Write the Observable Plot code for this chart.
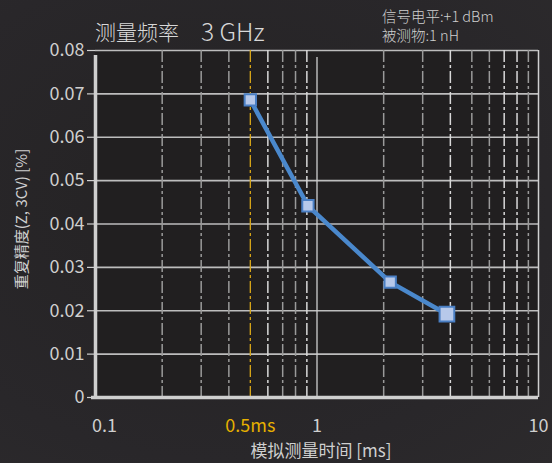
<!DOCTYPE html>
<html><head><meta charset="utf-8">
<script src="https://cdn.jsdelivr.net/npm/d3@7"></script>
<script src="https://cdn.jsdelivr.net/npm/@observablehq/plot@0.6"></script>
<style>
html,body{margin:0;padding:0;background:#272526;}
#wrap{position:relative;width:552px;height:463px;overflow:hidden;
  background:radial-gradient(ellipse at 40% 45%, #242223 0%, #29272a 70%, #2c2a2c 100%);
  font-family:"Noto Sans CJK SC","Noto Sans",sans-serif;}
#title{position:absolute;left:95px;top:12px;font-size:21px;color:#d8d8d8;font-weight:300;white-space:nowrap;}
#title span{font-size:24.5px;margin-left:22px;position:relative;top:1px;}
#note{position:absolute;left:382px;top:6px;font-size:14.5px;line-height:19px;color:#cfcfcf;font-weight:300;}
svg{position:absolute;left:0;top:0;}
</style></head>
<body><div id="wrap"><div id="title">测量频率<span>3 GHz</span></div><div id="note">信号电平:+1 dBm<br>被测物:1 nH</div></div>
<script>
const times = [0.5, 0.91, 2.14, 3.86];            // 模拟测量时间 [ms]
const precision = [0.0686, 0.0442, 0.0266, 0.0192]; // 重复精度 [%]
const yTicks = [0, 0.01, 0.02, 0.03, 0.04, 0.05, 0.06, 0.07, 0.08];
const yTickLabels = ["0","0.01","0.02","0.03","0.04","0.05","0.06","0.07","0.08"];
const xTicks = [0.1, 0.5, 1, 10];
const xTickLabels = ["0.1", "0.5ms", "1", "10"];
const minorX = [0.2,0.3,0.4,0.6,0.7,0.8,0.9,2,3,4,5,6,7,8,9];
const minorBright = [false,false,false,true,false,false,true,false,false,true,false,false,true,true,false];
const markedTime = 0.5;

const pts = times.map((t,i)=>({t, p: precision[i], i}));
const minor = minorX.map((v,i)=>({v, b: minorBright[i]}));
const xlab = xTicks.map((v,i)=>({v, s: xTickLabels[i]}));

const chart = Plot.plot({
  width: 552, height: 463,
  marginTop: 50, marginBottom: 66, marginLeft: 95, marginRight: 14,
  style: {background: "transparent", fontFamily: '"Noto Sans CJK SC","Noto Sans",sans-serif', fontSize: "17px", color: "#cfcfcf"},
  x: {type: "log", domain: [0.1, 10], label: null, axis: null},
  y: {domain: [0, 0.08], label: null, axis: null},
  marks: [
    Plot.rect([0], {x1: 0.1, x2: 10, y1: 0, y2: 0.08, fill: "#211f20"}),
    Plot.ruleY(yTicks, {stroke: "#bdbdbd", strokeWidth: 1.6}),
    Plot.ruleX(minor.filter(d=>d.v!==markedTime), {x: "v", stroke: d => d.b ? "#d8d8d8" : "#9a9a9a", strokeWidth: 1.5, strokeDasharray: "12,3,3,3"}),
    Plot.ruleX([markedTime], {stroke: "#d9a818", strokeWidth: 1.3, strokeDasharray: "12,3,3,3"}),
    Plot.ruleX([1], {stroke: "#d0d0d0", strokeWidth: 1.3, y1: 0, y2: 0.08, insetBottom: -7}),
    Plot.ruleX([10], {stroke: "#d0d0d0", strokeWidth: 1.5, y1: 0, y2: 0.08}),
    Plot.ruleX([0.1], {stroke: "#cfcfcf", strokeWidth: 3.5, y1: 0, y2: 0.08, insetBottom: -5}),
    Plot.ruleY([0], {stroke: "#cfcfcf", strokeWidth: 3.5, x1: 0.1, x2: 10, insetLeft: -4}),
    Plot.axisY({ticks: yTicks, tickFormat: (d,i)=>yTickLabels[i], tickSize: 8, tickPadding: 3, stroke: "#cfcfcf", fill: "#cfcfcf", fontSize: 18, label: null, strokeWidth: 1.2}),
    Plot.text(xlab.filter(d=>d.v!==0.1), {x: "v", y: 0, dy: 29, text: "s", fill: d => d.v === markedTime ? "#e6b000" : "#cfcfcf", fontSize: 18}),
    Plot.text(xlab.filter(d=>d.v===0.1), {x: "v", y: 0, dy: 29, dx: 9, text: "s", fill: "#cfcfcf", fontSize: 18}),
    Plot.line(pts, {x: "t", y: "p", stroke: "#4a88cc", strokeWidth: 4.5}),
    Plot.dot(pts.filter(d=>d.i<3), {x: "t", y: "p", symbol: "square", r: 6.4, fill: "#b7c9ea", stroke: "#4a7fc4", strokeWidth: 2}),
    Plot.dot(pts.filter(d=>d.i===3), {x: "t", y: "p", symbol: "square", r: 8.3, fill: "#b7c9ea", stroke: "#4a7fc4", strokeWidth: 2}),
    Plot.text(["模拟测量时间 [ms]"], {frameAnchor: "bottom", dy: 59, dx: 4, fill: "#cfcfcf", fontSize: 17, text: d=>d}),
    Plot.text(["重复精度(Z, 3CV) [%]"], {frameAnchor: "left", textAnchor: "middle", dx: -73, dy: -5, rotate: -90, fill: "#cfcfcf", fontSize: 15, text: d=>d})
  ]
});
document.getElementById("wrap").appendChild(chart);
</script></body></html>
